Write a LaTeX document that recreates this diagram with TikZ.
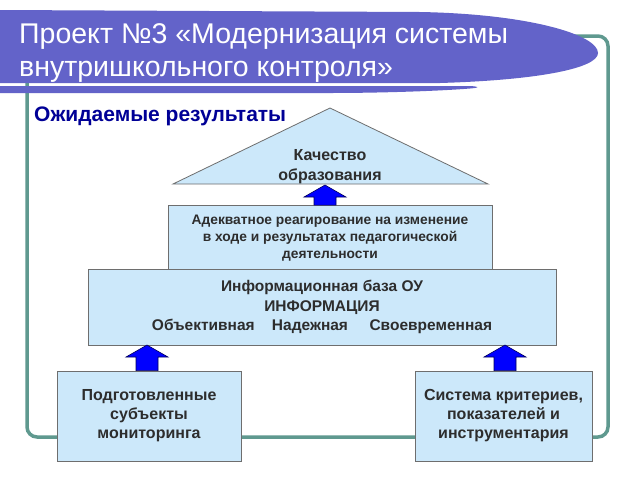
\documentclass[tikz,border=0pt]{standalone}
\usepackage{fontspec}
\setmainfont{Liberation Sans}
\usepackage{xcolor}
\usepackage{tikz}
\usetikzlibrary{calc}
\usetikzlibrary{positioning}

\definecolor{bannerblue}{RGB}{99,99,201}
\definecolor{framegreen}{RGB}{95,153,143}
\definecolor{boxfill}{RGB}{204,232,250}
\definecolor{boxline}{RGB}{110,110,110}
\definecolor{boxtext}{RGB}{45,45,45}
\definecolor{headblue}{RGB}{0,0,150}
\definecolor{arrblue}{RGB}{0,0,255}
\definecolor{arrline}{RGB}{0,0,90}

\newcommand{\blockup}[2]{%
  \filldraw[blockarrow] let \p1=(#2 |- #1.north), \p2=(#2) in
    (\x1-11pt,\y1) -- (\x1-11pt,\y2-12pt) -- (\x1-21pt,\y2-12pt) -- (\x2,\y2)
    -- (\x1+21pt,\y2-12pt) -- (\x1+11pt,\y2-12pt) -- (\x1+11pt,\y1) -- cycle;}

\begin{document}
\begin{tikzpicture}[
	x=1pt, y=-1pt,
	font=\bfseries
]
\tikzset{
    mybox/.style = {rectangle, draw=boxline, fill=boxfill, align=center, text=boxtext, line width=0.8pt, inner sep=0pt},
    blockarrow/.style = {draw=arrline, fill=arrblue, line width=0.6pt},
    frameline/.style = {draw=framegreen, line width=3.5pt, rounded corners=10pt}
}
\useasboundingbox (0,0) rectangle (640,480);
\fill[white] (0,0) rectangle (640,480);

\draw[frameline] (27,36) rectangle (608,437);

\fill[bannerblue] (0,10) -- (420,12) .. controls (530,14) and (598,35) .. (598,53)
   .. controls (598,68) and (540,80) .. (440,83) -- (0,83) -- cycle;
\fill[bannerblue] (0,86) -- (470,86) .. controls (478,86.5) and (482,87.5) .. (470,88.5)
   .. controls (440,91) and (380,93) .. (330,93) -- (0,93) -- cycle;
\node[anchor=west, align=left, text=white, font=\fontsize{28.5}{33.5}\selectfont, inner sep=0pt] (title) at (19,53)
   {Проект №3 «Модернизация системы\\внутришкольного контроля»};

\node[anchor=west, text=headblue, font=\bfseries\fontsize{21}{23}\selectfont, inner sep=0pt] (result) at (34,116) {Ожидаемые результаты};

\coordinate (trTop) at (330,108);
\coordinate (trL) at (173,184);
\coordinate (trR) at (488,184);
\filldraw[fill=boxfill, draw=boxline, line width=0.8pt] (trL) -- (trTop) -- (trR) -- cycle;
\node[align=center, text=boxtext, font=\bfseries\fontsize{16}{20}\selectfont] (quality) at (330,167) {Качество\\образования};

\node[mybox, minimum width=324pt, minimum height=65pt, font=\bfseries\fontsize{13.8}{17}\selectfont] (react) at (330,238)
   {Адекватное реагирование на изменение\\в ходе и результатах педагогической\\деятельности};
\node[mybox, minimum width=468pt, minimum height=76pt, font=\bfseries\fontsize{15.5}{19.5}\selectfont] (infobase) at (322,307)
   {Информационная база ОУ\\ИНФОРМАЦИЯ\\Объективная\ \ \ \ Надежная\ \ \ \ \ Своевременная};

\node[mybox, minimum width=184pt, minimum height=90pt, font=\bfseries\fontsize{16}{19}\selectfont] (subjects) at (149,416)
   {Подготовленные\\субъекты\\мониторинга};
\node[mybox, minimum width=177pt, minimum height=90pt, font=\bfseries\fontsize{16}{19}\selectfont] (criteria) at (503.5,416)
   {Система критериев,\\показателей и\\инструментария};

\coordinate (qIn) at (325,185);
\coordinate (infoL) at (147,345);
\coordinate (infoR) at (505,345);
\blockup{react}{qIn}
\blockup{subjects}{infoL}
\blockup{criteria}{infoR}
\end{tikzpicture}
\end{document}
